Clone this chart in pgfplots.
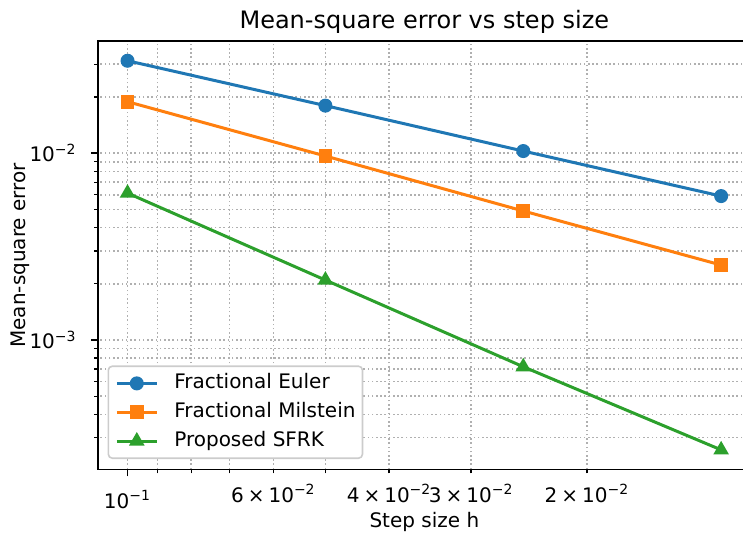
\documentclass[border=0pt]{standalone}
\usepackage{fontspec}
\setmainfont{DejaVu Sans}
\usepackage{pgfplots}
\pgfplotsset{compat=1.18}
\definecolor{tabblue}{HTML}{1F77B4}
\definecolor{taborange}{HTML}{FF7F0E}
\definecolor{tabgreen}{HTML}{2CA02C}
\definecolor{gridgray}{HTML}{B0B0B0}
\definecolor{legendgray}{HTML}{CCCCCC}
\newcommand{\tenexp}[1]{10\textsuperscript{−#1}}
\newcommand{\sci}[2]{#1\hspace{0.2em}×\hspace{0.2em}10\textsuperscript{−#2}}
\begin{document}
\begin{tikzpicture}
\useasboundingbox (0,0) rectangle (371.5pt,266.5pt);
\begin{axis}[
  at={(49pt,31.85pt)}, anchor=south west,
  scale only axis, width=326.35pt, height=214pt,
  xmode=log, ymode=log, x dir=reverse,
  xmin=0.01127, xmax=0.1109, ymin=0.000203, ymax=0.0398,
  axis line style={line width=0.8pt, black},
  tick align=outside, tick pos=left,
  major tick length=3.5pt, minor tick length=2pt,
  every tick/.style={black, line width=0.8pt},
  every minor tick/.append style={line width=0.6pt},
  xtick={0.1}, xticklabels={\tenexp{1}},
  extra x ticks={0.06,0.04,0.03,0.02},
  extra x tick labels={\sci{6}{2},\sci{4}{2},\sci{3}{2},\sci{2}{2}},
  extra x tick style={major tick length=2pt, grid=major, xticklabel style={yshift=1.6pt}},
  minor xtick={0.09,0.08,0.07,0.05},
  ytick={0.01,0.001}, yticklabels={\tenexp{2},\tenexp{3}},
  minor ytick={0.0003,0.0004,0.0005,0.0006,0.0007,0.0008,0.0009,0.002,0.003,0.004,0.005,0.006,0.007,0.008,0.009,0.02,0.03},
  grid=both,
  major grid style={gridgray, line width=0.8pt, dash pattern=on 0.8pt off 1.32pt},
  minor grid style={gridgray, line width=0.8pt, dash pattern=on 0.8pt off 1.32pt},
  xticklabel style={anchor=north, inner sep=0pt, yshift=-7pt, font=\fontsize{10pt}{12pt}\selectfont},
  yticklabel style={anchor=east, inner sep=0pt, xshift=-7pt, font=\fontsize{10pt}{12pt}\selectfont},
  title={Mean-square error vs step size},
  every axis title/.style={at={(axis description cs:0.5,1)}, anchor=base, yshift=6.2pt, inner sep=0pt, font=\fontsize{12pt}{14pt}\selectfont},
  xlabel={Step size h},
  every axis x label/.style={at={(axis description cs:0.5,0)}, anchor=base, yshift=-29.25pt, inner sep=0pt, font=\fontsize{10pt}{12pt}\selectfont},
  ylabel={Mean-square error},
  every axis y label/.style={at={(axis description cs:-0.1114,0.5)}, rotate=90, anchor=base, inner sep=0pt, font=\fontsize{10pt}{12pt}\selectfont},
  legend image code/.code={\draw[mark repeat=2,mark phase=2] plot coordinates {(0pt,0pt)(10pt,0pt)(20pt,0pt)};},
  legend cell align=left,
  legend style={at={(axis description cs:0,0)}, anchor=south west, xshift=4.75pt, yshift=5.15pt,
    draw=legendgray, line width=0.8pt, rounded corners=2pt, fill=white,
    inner xsep=3.5pt, inner ysep=3.85pt, row sep=4.9pt, column sep=8pt,
    nodes={inner sep=0pt, text height=7.5pt, text depth=2pt, anchor=west},
    font=\fontsize{10pt}{12pt}\selectfont},
]
\addplot[tabblue, line width=1.5pt, mark=*, mark size=3pt, mark options={line width=1pt}]
  coordinates {(0.1,0.0313)(0.05,0.0180)(0.025,0.01028)(0.0125,0.0059)};
\addlegendentry{Fractional Euler}
\addplot[taborange, line width=1.5pt, mark=square*, mark size=2.9pt, mark options={line width=1pt}]
  coordinates {(0.1,0.01889)(0.05,0.00967)(0.025,0.00491)(0.0125,0.00252)};
\addlegendentry{Fractional Milstein}
\addplot[tabgreen, line width=1.5pt, mark=triangle*, mark size=3.5pt, mark options={line width=1pt}]
  coordinates {(0.1,0.00612)(0.05,0.002094)(0.025,0.000719)(0.0125,0.000258)};
\addlegendentry{Proposed SFRK}
\end{axis}
\end{tikzpicture}
\end{document}
